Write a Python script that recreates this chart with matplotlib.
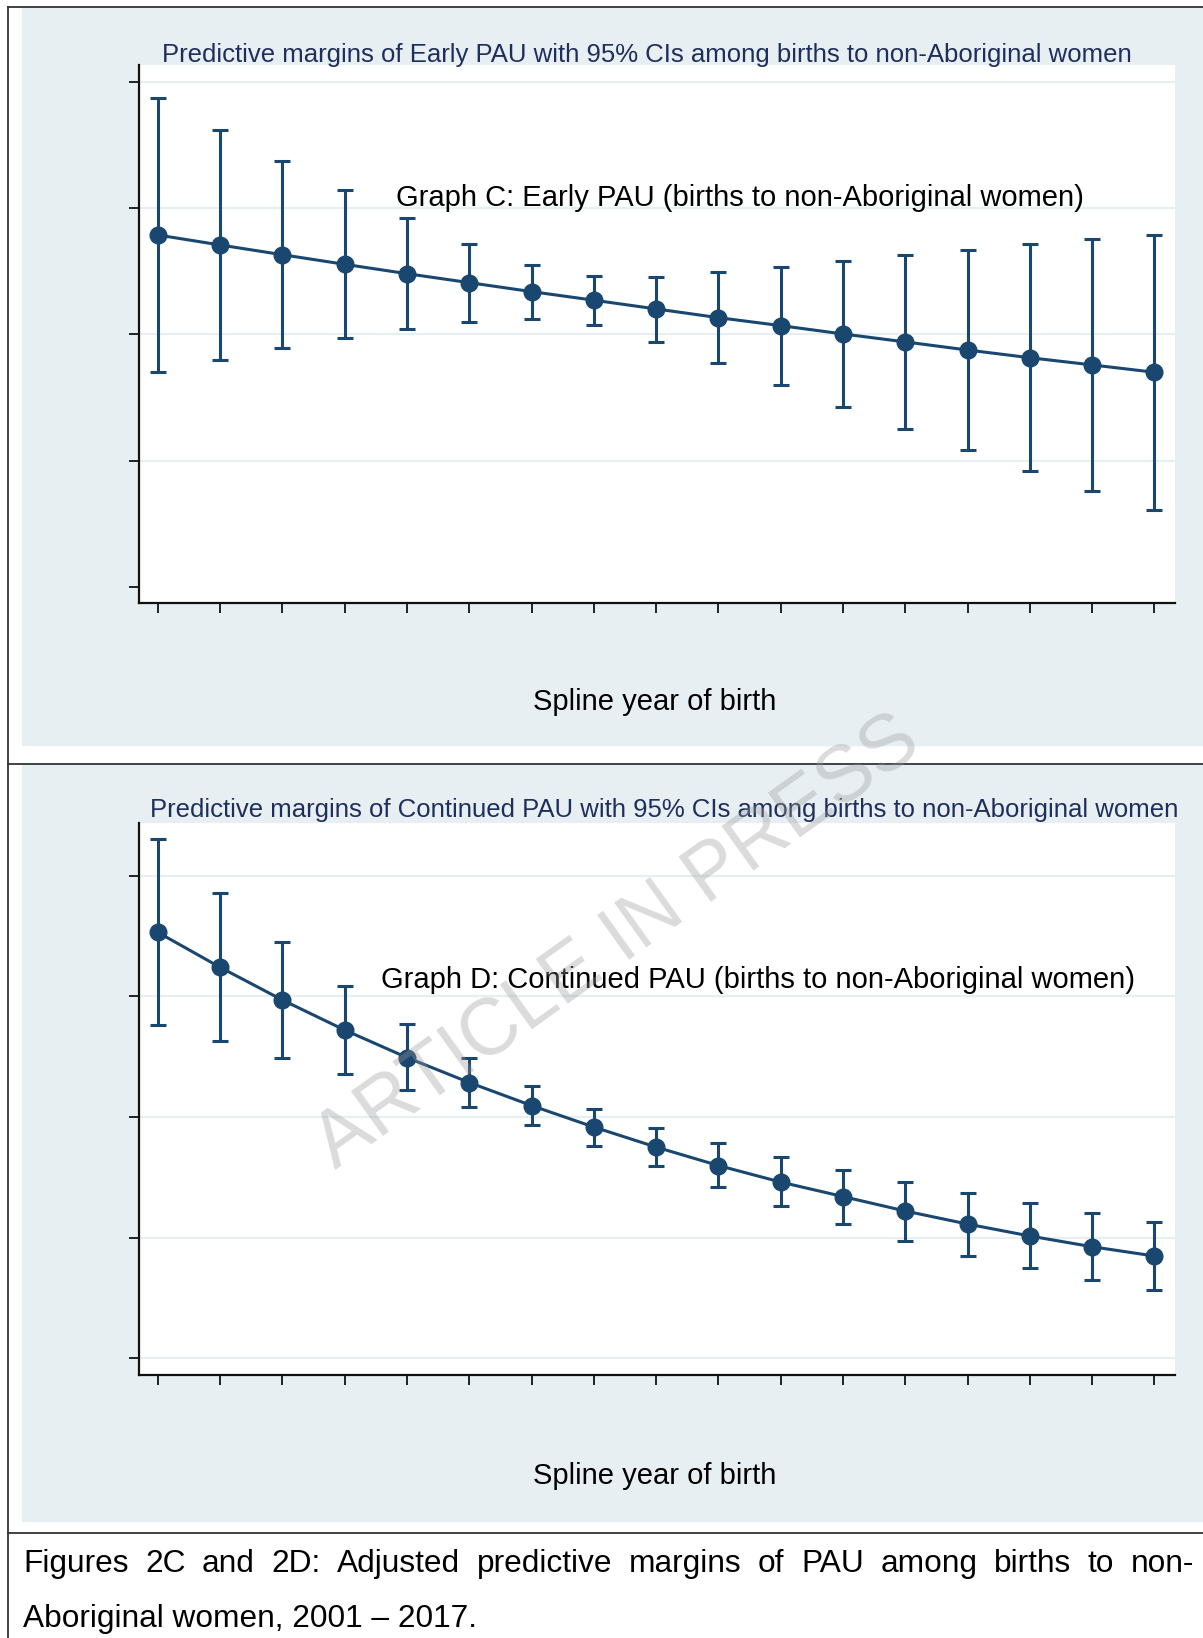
import numpy as np
import matplotlib.pyplot as plt
from matplotlib.patches import Rectangle
from matplotlib.lines import Line2D

W, H = 1203, 1638          # figure size in pixels
FONT = 'Liberation Sans'
NAVY = '#1a476f'
TITLE_COL = '#1f2f5c'
BG = '#e8eff2'

# ---- data (y in tick-step units, labels are hidden) ----
years = np.arange(2001, 2018)
yticks = [0, 1, 2, 3, 4]

early_mid = [2.787, 2.708, 2.631, 2.555, 2.481, 2.410, 2.339, 2.271, 2.202,
             2.133, 2.070, 2.004, 1.941, 1.877, 1.816, 1.759, 1.701]
early_hi = [3.869, 3.616, 3.375, 3.141, 2.919, 2.718, 2.550, 2.460, 2.457,
            2.494, 2.536, 2.581, 2.629, 2.671, 2.716, 2.753, 2.790]
early_lo = [1.706, 1.801, 1.891, 1.972, 2.044, 2.099, 2.125, 2.073, 1.941,
            1.775, 1.598, 1.424, 1.252, 1.086, 0.920, 0.762, 0.609]

cont_mid = [3.531, 3.241, 2.970, 2.721, 2.493, 2.286, 2.095, 1.917, 1.751,
            1.598, 1.461, 1.341, 1.221, 1.113, 1.014, 0.925, 0.848]
cont_hi = [4.302, 3.854, 3.449, 3.090, 2.769, 2.489, 2.255, 2.065, 1.911,
           1.781, 1.668, 1.562, 1.462, 1.373, 1.290, 1.207, 1.130]
cont_lo = [2.763, 2.630, 2.493, 2.356, 2.220, 2.085, 1.931, 1.763, 1.591,
           1.420, 1.261, 1.114, 0.972, 0.850, 0.748, 0.649, 0.566]

title_c = 'Predictive margins of Early PAU with 95% CIs among births to non-Aboriginal women'
title_d = 'Predictive margins of Continued PAU with 95% CIs among births to non-Aboriginal women'
label_c = 'Graph C: Early PAU (births to non-Aboriginal women)'
label_d = 'Graph D: Continued PAU (births to non-Aboriginal women)'
xlab = 'Spline year of birth'
caption1 = 'Figures 2C and 2D: Adjusted predictive margins of PAU among births to non-'
caption2 = 'Aboriginal women, 2001 \u2013 2017.'

plt.rcParams['font.family'] = [FONT, 'DejaVu Sans']

fig = plt.figure(figsize=(W / 100, H / 100), dpi=100)


def fx(x):
    return x / W


def fy(y):
    return 1 - y / H


# panel backgrounds (behind the axes)
for top, bot in [(8, 745), (765, 1521)]:
    fig.patches.append(Rectangle((fx(22), fy(bot)), fx(W) - fx(22), (bot - top) / H,
                                 transform=fig.transFigure, color=BG, zorder=-5))

# table frame lines
frame_kw = dict(transform=fig.transFigure, color='#333333', lw=1.3, zorder=-4)
fig.lines.append(Line2D([fx(8), fx(8)], [fy(7), fy(H)], **frame_kw))
for yy in [7, 764, 1533]:
    fig.lines.append(Line2D([fx(8), fx(W)], [fy(yy), fy(yy)], **frame_kw))


def panel(top, bot, mid, hi, lo, ylim, grid_ticks):
    ax = fig.add_axes([fx(138.5), fy(bot), (1175 - 138.5) / W, (bot - top) / H])
    ax.set_facecolor('white')
    for v in grid_ticks:
        ax.axhline(v, color=BG, lw=1.6, zorder=0)
    mid = np.array(mid)
    err = [mid - np.array(lo), np.array(hi) - mid]
    ax.errorbar(years, mid, yerr=err, fmt='o-', color=NAVY, ms=12, lw=2.2,
                elinewidth=2.2, capsize=5.6, capthick=2.2, zorder=3)
    ax.set_xlim(2000.69, 2017.33)
    ax.set_ylim(*ylim)
    ax.set_xticks(years)
    ax.set_yticks(yticks)
    ax.set_xticklabels([])
    ax.set_yticklabels([])
    ax.tick_params(direction='out', length=7.2, width=1.2, color='black')
    for s in ['top', 'right']:
        ax.spines[s].set_visible(False)
    for s in ['left', 'bottom']:
        ax.spines[s].set_linewidth(1.6)
        ax.spines[s].set_color('#111111')
    return ax


panel(65, 603.3, early_mid, early_hi, early_lo, (-0.127, 4.132), [1, 2, 3, 4])
panel(823, 1375, cont_mid, cont_hi, cont_lo, (-0.138, 4.437), [0, 1, 2, 3, 4])

# titles and labels
fig.text(fx(646.5), fy(55), title_c, fontsize=18.5, color=TITLE_COL, ha='center', va='center')
fig.text(fx(664), fy(810), title_d, fontsize=18.5, color=TITLE_COL, ha='center', va='center')
fig.text(fx(739.5), fy(198.5), label_c, fontsize=21, color='black', ha='center', va='center')
fig.text(fx(758), fy(979.5), label_d, fontsize=21, color='black', ha='center', va='center')
fig.text(fx(655), fy(702), xlab, fontsize=21, color='black', ha='center', va='center')
fig.text(fx(655), fy(1475.6), xlab, fontsize=21, color='black', ha='center', va='center')

# watermark
fig.text(fx(618), fy(943), 'ARTICLE IN PRESS', fontsize=57, color='#999999', alpha=0.35,
         rotation=35.6, rotation_mode='anchor', ha='center', va='center', zorder=10)

# caption, first line justified
renderer = fig.canvas.get_renderer()
cap_size = 22.8
words = caption1.split(' ')
widths = []
for w in words:
    t = fig.text(0, 0, w, fontsize=cap_size)
    widths.append(t.get_window_extent(renderer=renderer).width)
    t.remove()
x0, x1 = 23, 1194
gap = (x1 - x0 - sum(widths)) / (len(words) - 1)
x = x0
for w, wd in zip(words, widths):
    fig.text(fx(x), fy(1572), w, fontsize=cap_size, color='black', ha='left', va='baseline')
    x += wd + gap
fig.text(fx(23), fy(1627), caption2, fontsize=cap_size, color='black', ha='left', va='baseline')

fig.savefig('out.png', dpi=100)
